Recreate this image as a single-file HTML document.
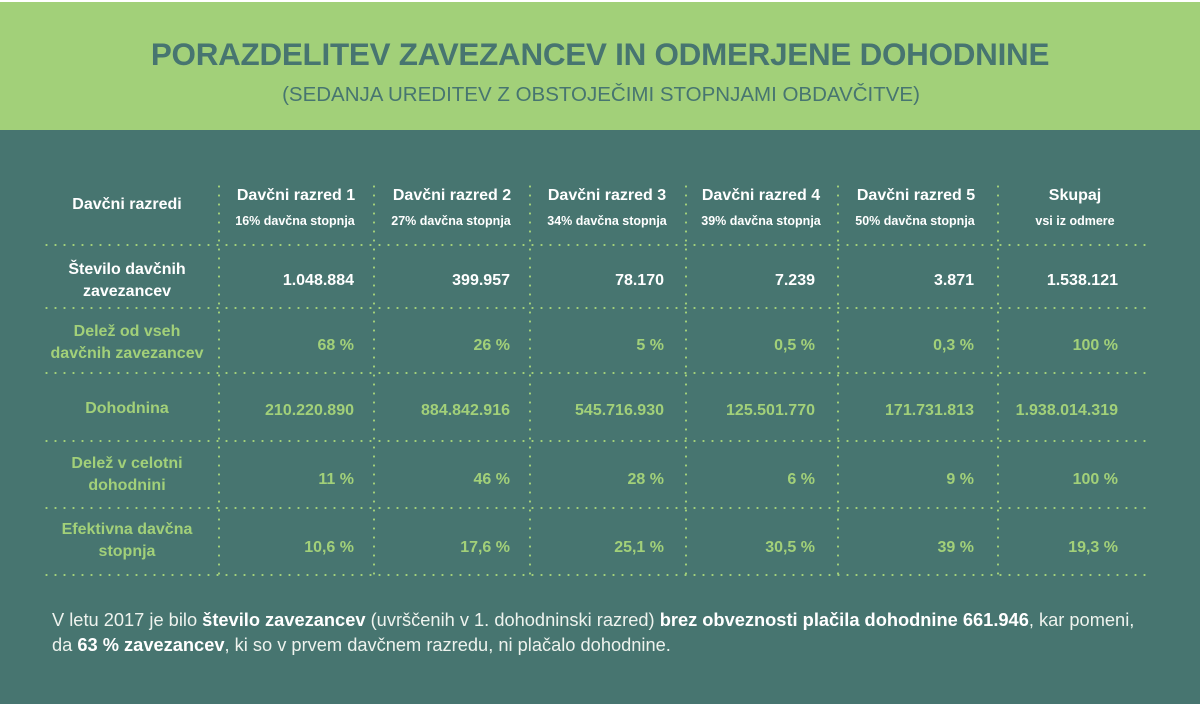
<!DOCTYPE html>
<html><head><meta charset="utf-8"><style>
*{margin:0;padding:0;box-sizing:border-box}
body{width:1200px;height:704px;overflow:hidden;background:#fff;font-family:"Liberation Sans",sans-serif;position:relative}
.g{position:absolute;left:0;top:2px;width:1200px;height:128px;background:#a2d079}
.t{position:absolute;left:0;top:130px;width:1200px;height:574px;background:#477570}
.a{position:absolute;white-space:nowrap}
.h{height:2px;background:radial-gradient(circle,#a2d079 0.9px,transparent 1.3px) 0 0/9px 2px repeat-x;left:42px;width:1110px}
.v{width:2px;background:radial-gradient(circle,#a2d079 0.9px,transparent 1.3px) 0 0/2px 9px repeat-y;top:182px;height:394px}
.c{text-align:center;transform:translateX(-50%)}
.r{text-align:right;transform:translateX(-100%)}
.w{color:#fff;font-weight:bold}
.gr{color:#a2d079;font-weight:bold}
.hd{font-size:16px}
.sb{font-size:12.5px}
.val{font-size:16px}
.lb{font-size:16px;line-height:22px;text-align:center}
</style></head><body>
<div class="g"></div><div class="t"></div>
<div class="a c" style="left:600px;top:37px;font-size:31.4px;font-weight:bold;color:#477570;letter-spacing:-0.25px">PORAZDELITEV ZAVEZANCEV IN ODMERJENE DOHODNINE</div>
<div class="a c" style="left:601px;top:83px;font-size:20.5px;color:#477570">(SEDANJA UREDITEV Z OBSTOJEČIMI STOPNJAMI OBDAVČITVE)</div>

<div class="a h" style="top:244px"></div>
<div class="a h" style="top:307px"></div>
<div class="a h" style="top:372px"></div>
<div class="a h" style="top:440px"></div>
<div class="a h" style="top:507px"></div>
<div class="a h" style="top:574px"></div>
<div class="a v" style="left:218px"></div>
<div class="a v" style="left:373px"></div>
<div class="a v" style="left:529px"></div>
<div class="a v" style="left:685px"></div>
<div class="a v" style="left:837px"></div>
<div class="a v" style="left:997px"></div>

<div class="a c w hd" style="left:127px;top:196px">Davčni razredi</div>
<div class="a c w hd" style="left:296px;top:187px">Davčni razred 1</div>
<div class="a c w hd" style="left:452px;top:187px">Davčni razred 2</div>
<div class="a c w hd" style="left:607px;top:187px">Davčni razred 3</div>
<div class="a c w hd" style="left:761px;top:187px">Davčni razred 4</div>
<div class="a c w hd" style="left:916px;top:187px">Davčni razred 5</div>
<div class="a c w hd" style="left:1075px;top:187px">Skupaj</div>
<div class="a c w sb" style="left:295px;top:214px">16% davčna stopnja</div>
<div class="a c w sb" style="left:451px;top:214px">27% davčna stopnja</div>
<div class="a c w sb" style="left:607px;top:214px">34% davčna stopnja</div>
<div class="a c w sb" style="left:761px;top:214px">39% davčna stopnja</div>
<div class="a c w sb" style="left:915px;top:214px">50% davčna stopnja</div>
<div class="a c w sb" style="left:1075px;top:214px">vsi iz odmere</div>

<div class="a c w lb" style="left:127px;top:259px">Število davčnih<br>zavezancev</div>
<div class="a c gr lb" style="left:127px;top:321px">Delež od vseh<br>davčnih zavezancev</div>
<div class="a c gr lb" style="left:127px;top:398px">Dohodnina</div>
<div class="a c gr lb" style="left:127px;top:453px">Delež v celotni<br>dohodnini</div>
<div class="a c gr lb" style="left:127px;top:519px">Efektivna davčna<br>stopnja</div>

<div class="a r w val" style="left:354px;top:272px">1.048.884</div>
<div class="a r w val" style="left:510px;top:272px">399.957</div>
<div class="a r w val" style="left:664px;top:272px">78.170</div>
<div class="a r w val" style="left:815px;top:272px">7.239</div>
<div class="a r w val" style="left:974px;top:272px">3.871</div>
<div class="a r w val" style="left:1118px;top:272px">1.538.121</div>

<div class="a r gr val" style="left:354px;top:337px">68 %</div>
<div class="a r gr val" style="left:510px;top:337px">26 %</div>
<div class="a r gr val" style="left:664px;top:337px">5 %</div>
<div class="a r gr val" style="left:815px;top:337px">0,5 %</div>
<div class="a r gr val" style="left:974px;top:337px">0,3 %</div>
<div class="a r gr val" style="left:1118px;top:337px">100 %</div>

<div class="a r gr val" style="left:354px;top:402px">210.220.890</div>
<div class="a r gr val" style="left:510px;top:402px">884.842.916</div>
<div class="a r gr val" style="left:664px;top:402px">545.716.930</div>
<div class="a r gr val" style="left:815px;top:402px">125.501.770</div>
<div class="a r gr val" style="left:974px;top:402px">171.731.813</div>
<div class="a r gr val" style="left:1118px;top:402px">1.938.014.319</div>

<div class="a r gr val" style="left:354px;top:471px">11 %</div>
<div class="a r gr val" style="left:510px;top:471px">46 %</div>
<div class="a r gr val" style="left:664px;top:471px">28 %</div>
<div class="a r gr val" style="left:815px;top:471px">6 %</div>
<div class="a r gr val" style="left:974px;top:471px">9 %</div>
<div class="a r gr val" style="left:1118px;top:471px">100 %</div>

<div class="a r gr val" style="left:354px;top:539px">10,6 %</div>
<div class="a r gr val" style="left:510px;top:539px">17,6 %</div>
<div class="a r gr val" style="left:664px;top:539px">25,1 %</div>
<div class="a r gr val" style="left:815px;top:539px">30,5 %</div>
<div class="a r gr val" style="left:974px;top:539px">39 %</div>
<div class="a r gr val" style="left:1118px;top:539px">19,3 %</div>

<div class="a" style="left:52px;top:609px;font-size:18.25px;color:#eef3ee">V letu 2017 je bilo <b style="color:#fff">število zavezancev</b> (uvrščenih v 1. dohodninski razred) <b style="color:#fff">brez obveznosti plačila dohodnine 661.946</b>, kar pomeni,</div>
<div class="a" style="left:52px;top:634px;font-size:18.25px;color:#eef3ee">da <b style="color:#fff">63 % zavezancev</b>, ki so v prvem davčnem razredu, ni plačalo dohodnine.</div>
</body></html>
